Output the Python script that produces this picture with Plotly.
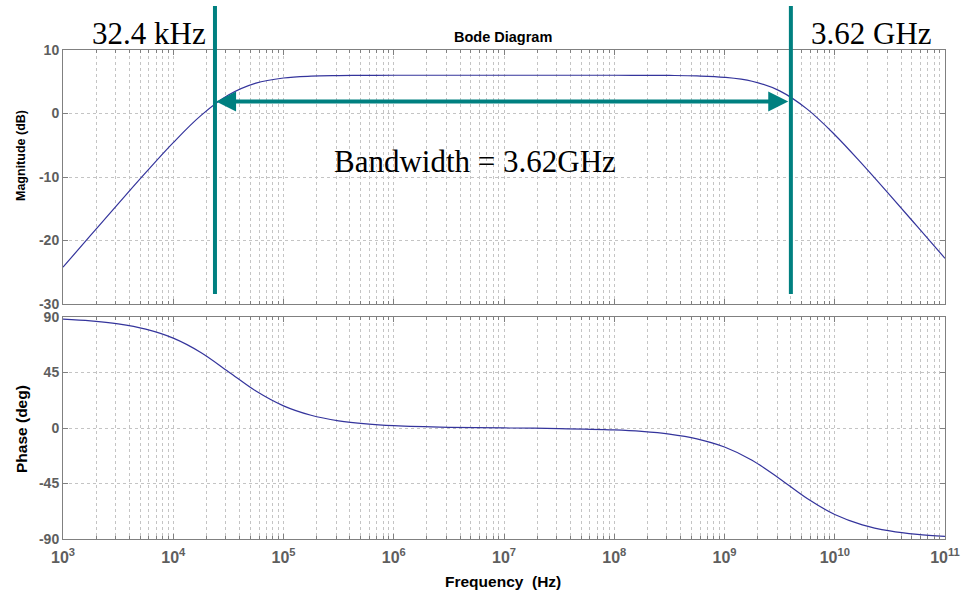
import math
import plotly.graph_objects as go

# ---- data ----
freq_hz = [1.0e3, 1.778e3, 3.162e3, 5.623e3, 1.0e4, 1.778e4, 3.162e4, 5.623e4,
           1.0e5, 1.778e5, 3.162e5, 5.623e5, 1.0e6, 3.162e6, 1.0e7, 3.162e7,
           1.0e8, 1.778e8, 3.162e8, 5.623e8, 1.0e9, 1.778e9, 3.162e9, 5.623e9,
           1.0e10, 1.778e10, 3.162e10, 5.623e10, 1.0e11]
magnitude_db = [-24.2, -19.2, -14.23, -9.32, -4.59, -0.34, 2.90, 4.78,
                5.59, 5.88, 5.97, 6.01, 6.02, 6.02, 6.02, 6.02,
                6.02, 6.01, 5.99, 5.92, 5.70, 5.08, 3.56, 0.69,
                -3.34, -7.98, -12.86, -17.82, -22.81]
phase_deg = [88.23, 86.86, 84.42, 80.15, 72.85, 61.24, 45.69, 29.95,
             17.95, 10.33, 5.85, 3.30, 1.86, 0.54, 0.03, -0.44,
             -1.56, -2.80, -4.98, -8.83, -15.44, -26.16, -41.14, -57.23,
             -70.1, -78.49, -83.47, -86.32, -87.93]

x_exponents = [3, 4, 5, 6, 7, 8, 9, 10, 11]
mag_ticks = [-30, -20, -10, 0, 10]
phase_ticks = [-90, -45, 0, 45, 90]

band_lo_hz = 2.39e4      # left marker line (as drawn)
band_hi_hz = 4.0e9       # right marker line (as drawn)
arrow_db = 1.9
label_lo = "32.4 kHz"
label_hi = "3.62 GHz"
label_bw = "Bandwidth = 3.62GHz"

# ---- figure ----
W, H = 961, 592
L, R, T, B = 63, 16, 50, 53
plot_h = H - T - B
plot_w = W - L - R


def py(p):
    return (H - B - p) / plot_h


def px(p):
    return (p - L) / plot_w


major_vals = [10 ** e for e in x_exponents]
major_text = ["<b>10<sup>%d</sup></b>" % e for e in x_exponents]
minor_vals = [m * 10 ** e for e in x_exponents[:-1] for m in range(2, 10)]

curve_color = "#34349c"
teal = "#008080"
grid_color = "#c4c4c4"
axis_color = "#808080"
tick_color = "#5e5e5e"
sans = "Liberation Sans, Arial, sans-serif"
serif = "Liberation Serif, Times New Roman, serif"

fig = go.Figure()
fig.add_trace(go.Scatter(x=freq_hz, y=magnitude_db, mode="lines",
                         line=dict(color=curve_color, width=1.2, shape="spline"),
                         xaxis="x", yaxis="y", showlegend=False))
fig.add_trace(go.Scatter(x=freq_hz, y=phase_deg, mode="lines",
                         line=dict(color=curve_color, width=1.2, shape="spline"),
                         xaxis="x2", yaxis="y2", showlegend=False))

xcommon = dict(type="log", range=[3, 11], showline=True, linecolor=axis_color,
               linewidth=1, mirror="allticks", ticks="inside", ticklen=5,
               tickcolor=axis_color, tickvals=major_vals, ticktext=major_text,
               showgrid=True, gridcolor=grid_color, griddash="dot", gridwidth=1,
               zeroline=False, automargin=False,
               minor=dict(tickvals=minor_vals, ticks="inside", ticklen=3,
                          tickcolor=axis_color, showgrid=True,
                          gridcolor=grid_color, griddash="dot", gridwidth=1))
ycommon = dict(showline=True, linecolor=axis_color, linewidth=1, mirror="allticks",
               ticks="inside", ticklen=5, tickcolor=axis_color, showgrid=True,
               gridcolor=grid_color, griddash="dot", gridwidth=1, zeroline=False,
               automargin=False,
               tickfont=dict(family=sans, size=14, color=tick_color))

fig.update_layout(
    width=W, height=H,
    margin=dict(l=L, r=R, t=T, b=B, autoexpand=False),
    paper_bgcolor="white", plot_bgcolor="white",
    xaxis=dict(xcommon, anchor="y", domain=[0, 1], showticklabels=False, matches="x2"),
    xaxis2=dict(xcommon, anchor="y2", domain=[0, 1], ticklabelstandoff=4,
                tickfont=dict(family=sans, size=16, color=tick_color)),
    yaxis=dict(ycommon, anchor="x", domain=[py(304), 1], range=[-30, 10],
               tickvals=mag_ticks, ticktext=["<b>%d</b>" % v for v in mag_ticks]),
    yaxis2=dict(ycommon, anchor="x2", domain=[0, py(317)], range=[-90, 90],
                tickvals=phase_ticks, ticktext=["<b>%d</b>" % v for v in phase_ticks]),
)

# marker lines
for f in (band_lo_hz, band_hi_hz):
    fig.add_shape(type="line", xref="x", yref="paper", x0=f, x1=f,
                  y0=py(294), y1=py(6), line=dict(color=teal, width=4))

# double arrow
fig.add_annotation(x=math.log10(band_lo_hz) + 0.01, y=arrow_db,
                   ax=math.log10(band_hi_hz) - 0.01, ay=arrow_db,
                   xref="x", yref="y", axref="x", ayref="y", text="",
                   showarrow=True, arrowhead=2, arrowside="end+start",
                   arrowsize=1.0, arrowwidth=4, arrowcolor=teal, standoff=0,
                   startstandoff=0)

ann_font = dict(family=serif, size=31, color="black")
for txt, cx, cy in ((label_lo, 148.5, 34), (label_hi, 871.5, 34), (label_bw, 475, 161)):
    fig.add_annotation(text=txt, xref="paper", yref="paper", x=px(cx), y=py(cy),
                       showarrow=False, font=ann_font, xanchor="center", yanchor="middle")

# titles
fig.add_annotation(text="<b>Bode Diagram</b>", xref="paper", yref="paper",
                   x=px(503), y=py(37), xanchor="center", yanchor="middle",
                   showarrow=False, font=dict(family=sans, size=14.5, color="black"))
fig.add_annotation(text="<b>Magnitude (dB)</b>", xref="paper", yref="paper",
                   x=px(21), y=py(156), xanchor="center", yanchor="middle",
                   showarrow=False, textangle=-90,
                   font=dict(family=sans, size=12.5, color="black"))
fig.add_annotation(text="<b>Phase (deg)</b>", xref="paper", yref="paper",
                   x=px(21), y=py(429), xanchor="center", yanchor="middle",
                   showarrow=False, textangle=-90,
                   font=dict(family=sans, size=15.5, color="black"))
fig.add_annotation(text="<b>Frequency\u00a0 (Hz)</b>", xref="paper", yref="paper",
                   x=px(503), y=py(581), xanchor="center", yanchor="middle",
                   showarrow=False, font=dict(family=sans, size=15.5, color="black"))

fig.write_html("out.html")
